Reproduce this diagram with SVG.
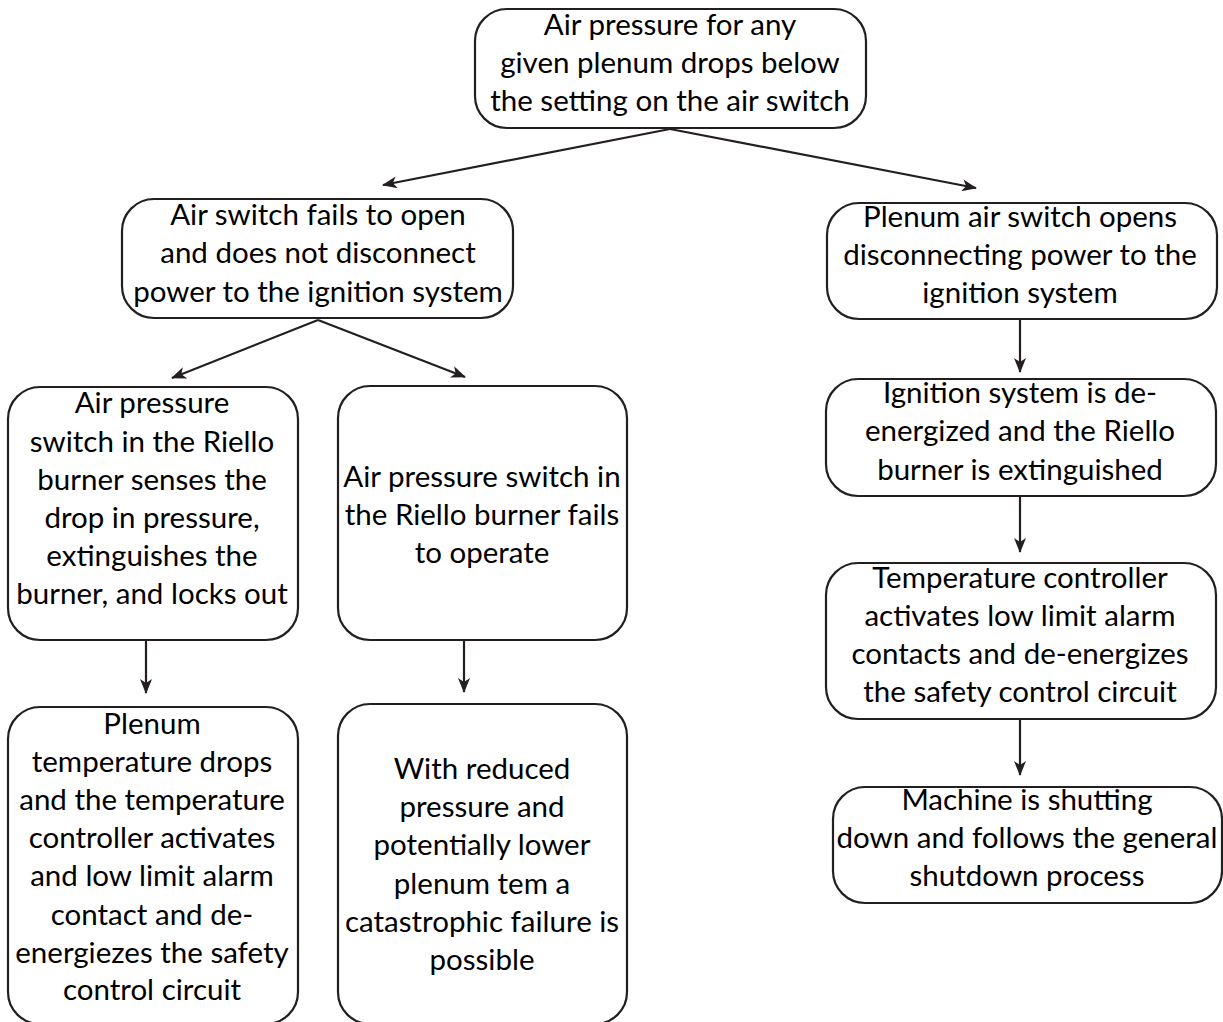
<svg xmlns="http://www.w3.org/2000/svg" width="1223" height="1022" viewBox="0 0 1223 1022">
<defs>
<style>
.box{fill:#fff;stroke:#231f20;stroke-width:2.2}
.t{font-family:Lato,"Open Sans",sans-serif;font-size:29.5px;fill:#000;text-anchor:middle}
.c{stroke:#231f20;stroke-width:2.2;fill:none;marker-end:url(#ah)}
</style>
<marker id="ah" viewBox="0 0 15 12" refX="14" refY="6" markerWidth="15" markerHeight="12" markerUnits="userSpaceOnUse" orient="auto">
<path d="M0,0 L15,6 L0,12 L4,6 z" fill="#231f20"/>
</marker>
</defs>
<rect width="1223" height="1022" fill="#fff"/>
<g id="connectors">
<line class="c" x1="670" y1="129" x2="383" y2="185"/>
<line class="c" x1="670" y1="129" x2="976" y2="188"/>
<line class="c" x1="318" y1="320" x2="172" y2="378"/>
<line class="c" x1="318" y1="320" x2="465" y2="377"/>
<line class="c" x1="146" y1="640" x2="146" y2="693"/>
<line class="c" x1="464" y1="640" x2="464" y2="692"/>
<line class="c" x1="1020" y1="319" x2="1020" y2="372"/>
<line class="c" x1="1020" y1="496" x2="1020" y2="552"/>
<line class="c" x1="1020" y1="719" x2="1020" y2="775"/>
</g>
<g id="n1">
<rect class="box" x="475" y="9" width="391" height="119" rx="32"/>
<text class="t"><tspan x="670" y="35">Air pressure for any</tspan><tspan x="670" y="73">given plenum drops below</tspan><tspan x="670" y="111">the setting on the air switch</tspan></text>
</g>
<g id="n2">
<rect class="box" x="122" y="199" width="391" height="119" rx="32"/>
<text class="t"><tspan x="318" y="225">Air switch fails to open</tspan><tspan x="318" y="263">and does not disconnect</tspan><tspan x="318" y="302">power to the ignition system</tspan></text>
</g>
<g id="n3">
<rect class="box" x="8" y="387" width="290" height="253" rx="32"/>
<text class="t"><tspan x="152" y="413">Air pressure</tspan><tspan x="152" y="452">switch in the Riello</tspan><tspan x="152" y="490">burner senses the</tspan><tspan x="152" y="528">drop in pressure,</tspan><tspan x="152" y="566">extinguishes the</tspan><tspan x="152" y="604">burner, and locks out</tspan></text>
</g>
<g id="n4">
<rect class="box" x="338" y="386" width="289" height="254" rx="32"/>
<text class="t"><tspan x="482" y="487">Air pressure switch in</tspan><tspan x="482" y="525">the Riello burner fails</tspan><tspan x="482" y="563">to operate</tspan></text>
</g>
<g id="n5">
<rect class="box" x="8" y="707" width="290" height="317" rx="32"/>
<text class="t"><tspan x="152" y="734">Plenum</tspan><tspan x="152" y="772">temperature drops</tspan><tspan x="152" y="810">and the temperature</tspan><tspan x="152" y="848">controller activates</tspan><tspan x="152" y="886">and low limit alarm</tspan><tspan x="152" y="925">contact and de-</tspan><tspan x="152" y="963">energiezes the safety</tspan><tspan x="152" y="1000">control circuit</tspan></text>
</g>
<g id="n6">
<rect class="box" x="338" y="704" width="289" height="320" rx="32"/>
<text class="t"><tspan x="482" y="779">With reduced</tspan><tspan x="482" y="817">pressure and</tspan><tspan x="482" y="855">potentially lower</tspan><tspan x="482" y="894">plenum tem a</tspan><tspan x="482" y="932">catastrophic failure is</tspan><tspan x="482" y="970">possible</tspan></text>
</g>
<g id="n7">
<rect class="box" x="827" y="203" width="390" height="116" rx="32"/>
<text class="t"><tspan x="1020" y="227">Plenum air switch opens</tspan><tspan x="1020" y="265">disconnecting power to the</tspan><tspan x="1020" y="303">ignition system</tspan></text>
</g>
<g id="n8">
<rect class="box" x="826" y="379" width="390" height="117" rx="32"/>
<text class="t"><tspan x="1020" y="403">Ignition system is de-</tspan><tspan x="1020" y="441">energized and the Riello</tspan><tspan x="1020" y="480">burner is extinguished</tspan></text>
</g>
<g id="n9">
<rect class="box" x="826" y="563" width="390" height="156" rx="32"/>
<text class="t"><tspan x="1020" y="588">Temperature controller</tspan><tspan x="1020" y="626">activates low limit alarm</tspan><tspan x="1020" y="664">contacts and de-energizes</tspan><tspan x="1020" y="702">the safety control circuit</tspan></text>
</g>
<g id="n10">
<rect class="box" x="833" y="787" width="389" height="116" rx="32"/>
<text class="t"><tspan x="1027" y="810">Machine is shutting</tspan><tspan x="1027" y="848">down and follows the general</tspan><tspan x="1027" y="886">shutdown process</tspan></text>
</g>
</svg>
